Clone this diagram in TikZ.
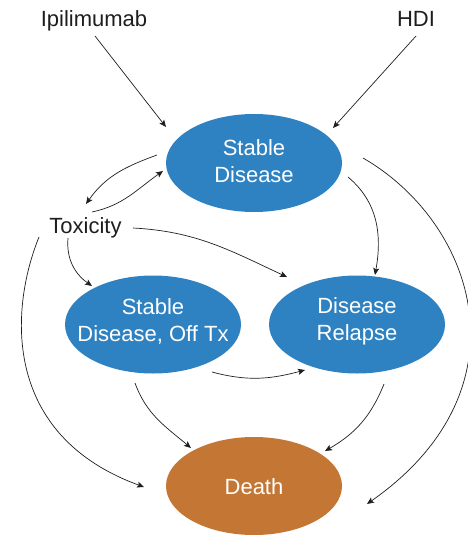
\documentclass[tikz,border=0pt]{standalone}
\usepackage{fontspec}
\setmainfont{Liberation Sans}
\usetikzlibrary{shapes.geometric,arrows.meta,calc,topaths}
\definecolor{blueC}{RGB}{47,130,194}
\definecolor{orangeC}{RGB}{196,119,53}
\definecolor{inkC}{RGB}{30,30,30}
\begin{document}
\begin{tikzpicture}[x=1pt,y=1pt,
  stateB/.style={ellipse,fill=blueC,minimum width=176pt,minimum height=98pt,inner sep=0pt},
  stateO/.style={ellipse,fill=orangeC,minimum width=176pt,minimum height=98pt,inner sep=0pt},
  wtxt/.style={text=white,align=center,font=\fontsize{22}{27}\selectfont,inner sep=0pt},
  btxt/.style={text=inkC,anchor=base,font=\fontsize{22}{27}\selectfont,inner sep=0pt},
  arr/.style={-{Stealth[length=7pt,width=6pt,inset=1.5pt]},line width=0.7pt,draw=inkC}]
\useasboundingbox (0,0) rectangle (467,-535);
% nodes
\node[btxt] (ipi) at (94,-27) {Ipilimumab};
\node[btxt] (hdi) at (416,-27) {HDI};
\node[btxt] (tox) at (85.5,-233) {Toxicity};
\node[stateB] (sd) at (254,-163) {};
\node[stateB] (ot) at (153,-324.5) {};
\node[stateB] (dr) at (357,-324.5) {};
\node[stateO] (de) at (254,-486) {};
\node[wtxt] (sdT) at ($(sd)+(0,2)$) {Stable\\Disease};
\node[wtxt] (otT) at ($(ot)+(0,3)$) {Stable\\Disease, Off Tx};
\node[wtxt] (drT) at ($(dr)+(0,3)$) {Disease\\Relapse};
\node[wtxt] (deT) at ($(de)+(0,-1)$) {Death};
% connectors
\draw[arr] ($(ipi.base)+(1,-9)$) -- ($(sd)+(-88,36)$);
\draw[arr] ($(hdi.base)+(0,-9)$) -- ($(sd)+(79,35)$);
\draw[arr] ($(sd)+(-97,8)$) to[out=200,in=55] ($(tox.base)+(0.5,29)$);
\draw[arr] ($(tox.base)+(6.5,21)$) to[out=12,in=215] ($(sd)+(-91,-8)$);
\draw[arr] ($(sd)+(94,-14)$) to[out=-40,in=80] ($(dr)+(18,49.5)$);
\draw[arr] ($(sd)+(109,5)$) to[out=-30,in=35,out distance=130pt,in distance=200pt] ($(de)+(113,-18)$);
\draw[arr] ($(tox.base)+(47.5,5)$) to[out=-3,in=155] ($(dr)+(-70,47.5)$);
\draw[arr] ($(tox.base)+(-17.5,-5)$) to[out=-95,in=145] ($(ot)+(-61,38.5)$);
\draw[arr] ($(tox.base)+(-46.5,-4)$) to[out=-112,in=160,out distance=80pt,in distance=150pt] ($(de)+(-110,-1)$);
\draw[arr] ($(ot)+(59,-47.5)$) to[out=-15,in=195] ($(dr)+(-52,-45.5)$);
\draw[arr] ($(ot)+(-18,-58.5)$) to[out=-70,in=140] ($(de)+(-63,38)$);
\draw[arr] ($(dr)+(27,-59.5)$) to[out=-112,in=30] ($(de)+(71,35)$);
\end{tikzpicture}
\end{document}
